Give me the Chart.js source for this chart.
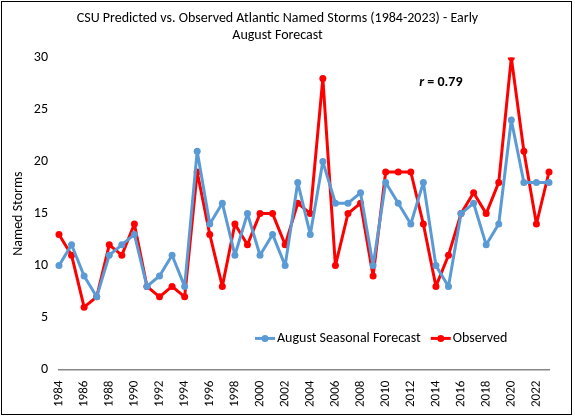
<!DOCTYPE html><html><head><script src="https://cdn.jsdelivr.net/npm/chart.js"></script>
<style>body{margin:0;background:#fff}#w{position:absolute;left:1px;top:1px;width:571px;height:414px;border:1.5px solid #000;box-sizing:border-box}</style></head><body>
<div id="w"><canvas id="c"></canvas></div>
<script>
const years=[];for(let y=1984;y<=2023;y++)years.push(String(y));
const forecast=[10,12,9,7,11,12,13,8,9,11,8,21,14,16,11,15,11,13,10,18,13,20,16,16,17,10,18,16,14,18,10,8,15,16,12,14,24,18,18,18];
const observed=[13,11,6,7,12,11,14,8,7,8,7,19,13,8,14,12,15,15,12,16,15,28,10,15,16,9,19,19,19,14,8,11,15,17,15,18,30,21,14,19];
const F='Calibri, Carlito, "Liberation Sans", sans-serif';
const rPlug={id:'r',afterDraw(ch){const c=ch.ctx,a=ch.chartArea;c.save();c.fillStyle='#000';c.textAlign='left';c.textBaseline='middle';
const x=a.left+(a.right-a.left)*0.735;c.font='italic bold 14px '+F;c.fillText('r',x,80);c.font='bold 14px '+F;c.fillText(' = 0.79',x+5,80);c.restore();}};
new Chart(document.getElementById('c'),{type:'line',data:{labels:years,datasets:[
{label:'August Seasonal Forecast',data:forecast,borderColor:'#5b9bd5',backgroundColor:'#5b9bd5',borderWidth:3,borderJoinStyle:'round',pointRadius:3.5,pointBorderWidth:0,tension:0},
{label:'Observed',data:observed,borderColor:'#ff0000',backgroundColor:'#ff0000',borderWidth:3,borderJoinStyle:'round',pointRadius:3.5,pointBorderWidth:0,tension:0}]},
options:{responsive:true,maintainAspectRatio:false,animation:false,layout:{padding:{left:4,right:22,top:4,bottom:4}},
plugins:{title:{display:true,text:['CSU Predicted vs. Observed Atlantic Named Storms (1984-2023) - Early','August Forecast'],font:{family:F,size:14,weight:'normal'},color:'#000',padding:{top:4,bottom:14}},
legend:{display:false},tooltip:{enabled:false}},
scales:{y:{min:0,max:30,ticks:{stepSize:5,font:{family:F,size:14},color:'#000'},grid:{display:false},border:{display:false},title:{display:true,text:'Named Storms',font:{family:F,size:14},color:'#000'}},
x:{ticks:{autoSkip:false,maxRotation:90,minRotation:89.9,font:{family:F,size:13},color:'#000',callback:(v,i)=>i%2===0?years[i]:''},grid:{display:false},border:{color:'#888',width:1.5}}}},
plugins:[rPlug,{id:'leg',afterDraw(ch){const c=ch.ctx,a=ch.chartArea;const y=a.top+(a.bottom-a.top)*0.9;c.save();c.font='14px '+F;c.textBaseline='middle';
let x=a.left+(a.right-a.left)*0.40;ch.data.datasets.forEach(d=>{c.strokeStyle=d.borderColor;c.lineWidth=3;c.beginPath();c.moveTo(x,y);c.lineTo(x+20,y);c.stroke();c.fillStyle=d.borderColor;c.beginPath();c.arc(x+10,y,3.5,0,7);c.fill();c.fillStyle='#000';c.fillText(d.label,x+22,y);x+=22+c.measureText(d.label).width+10;});c.restore();}}]});
</script></body></html>
